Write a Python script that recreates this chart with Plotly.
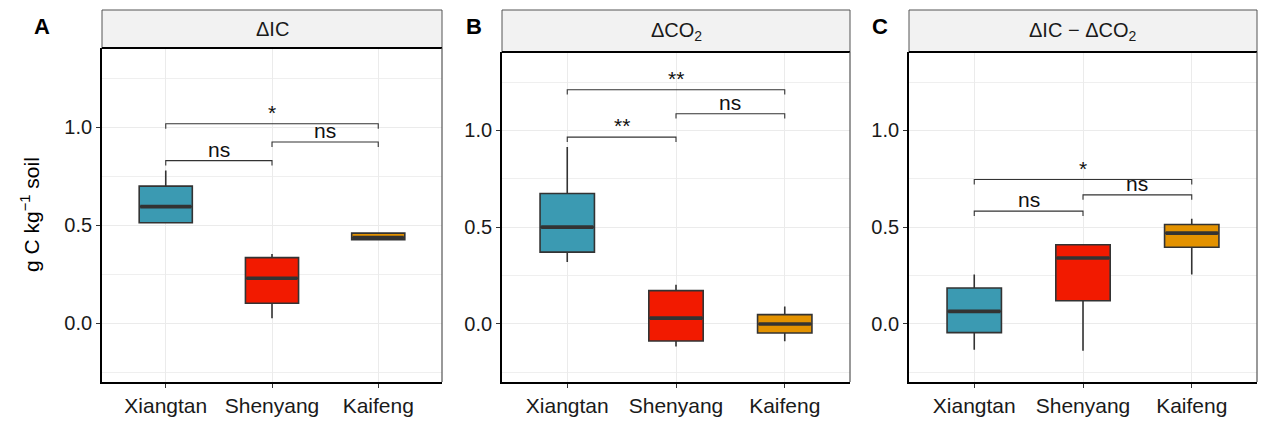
import plotly.graph_objects as go

# categories and colours
sites = ["Xiangtan", "Shenyang", "Kaifeng"]
site_colors = ["#3B9AB2", "#F21A00", "#E39200"]

# panel titles and labels
panel_titles = ["ΔIC", "ΔCO<sub>2</sub>", "ΔIC − ΔCO<sub>2</sub>"]
panel_tags = ["A", "B", "C"]

# box statistics (per panel, per site)
q1 = [[0.513, 0.102, 0.427], [0.371, -0.088, -0.047], [-0.045, 0.120, 0.396]]
median = [[0.595, 0.230, 0.437], [0.500, 0.030, 0.000], [0.065, 0.341, 0.469]]
q3 = [[0.700, 0.335, 0.460], [0.674, 0.172, 0.048], [0.186, 0.409, 0.514]]
low = [[0.513, 0.025, 0.427], [0.320, -0.117, -0.090], [-0.133, -0.138, 0.255]]
high = [[0.780, 0.353, 0.460], [0.914, 0.203, 0.090], [0.255, 0.409, 0.543]]

# significance brackets: (from, to, height, label)
brackets = [
    [(0, 1, 0.830, "ns"), (1, 2, 0.925, "ns"), (0, 2, 1.018, "*")],
    [(0, 1, 0.965, "**"), (1, 2, 1.086, "ns"), (0, 2, 1.210, "**")],
    [(0, 1, 0.583, "ns"), (1, 2, 0.667, "ns"), (0, 2, 0.746, "*")],
]

W, H = 1267, 422
OFF = 8  # page margin around the figure


def px(v):
    return (v - OFF) / W


def py(v):
    return 1 - (v - OFF) / H


x_doms = [(px(102), px(442)), (px(502), px(850)), (px(909), px(1257))]
y_tops = [py(48), py(52), py(52)]
y_bot = py(382)
strip_top = py(10)
tag_x = [42, 474, 880]
box_w = 0.5
font = "Liberation Sans, Arial, sans-serif"

fig = go.Figure()
layout = dict(
    width=W, height=H, margin=dict(l=0, r=0, t=0, b=0),
    plot_bgcolor="white", paper_bgcolor="white",
    font=dict(family=font, color="#1a1a1a"), showlegend=False,
)
shapes = []
annotations = []

for p in range(3):
    n = "" if p == 0 else str(p + 1)
    xa, ya = "x" + n, "y" + n
    for i, site in enumerate(sites):
        fig.add_trace(go.Box(
            x=[i], q1=[q1[p][i]], median=[median[p][i]], q3=[q3[p][i]],
            lowerfence=[low[p][i]], upperfence=[high[p][i]],
            width=box_w, whiskerwidth=0, fillcolor=site_colors[i],
            line=dict(color="#333333", width=1.6), boxpoints=False,
            hoverinfo="skip", xaxis=xa, yaxis=ya, name=site,
        ))
        fig.add_trace(go.Scatter(
            x=[i - box_w / 2 + 0.01, i + box_w / 2 - 0.01],
            y=[median[p][i]] * 2, mode="lines",
            line=dict(color="#333333", width=3.6),
            hoverinfo="skip", xaxis=xa, yaxis=ya,
        ))
    for a, b, h, lab in brackets[p]:
        fig.add_trace(go.Scatter(
            x=[a, a, b, b], y=[h - 0.025, h, h, h - 0.025], mode="lines",
            line=dict(color="#333333", width=1.1),
            hoverinfo="skip", xaxis=xa, yaxis=ya,
        ))
        annotations.append(dict(
            x=(a + b) / 2, y=h, xref=xa, yref=ya, text=lab, showarrow=False,
            xanchor="center", yanchor="bottom", yshift=-2,
            font=dict(size=21, color="#111"),
        ))

    layout["xaxis" + n] = dict(
        domain=list(x_doms[p]), range=[-0.6, 2.6], anchor=ya,
        tickvals=[0, 1, 2], ticktext=sites, showgrid=True,
        gridcolor="#EBEBEB", gridwidth=1.4, zeroline=False,
        showline=True, linecolor="black", linewidth=1.8,
        ticks="outside", ticklen=4, tickwidth=1.3, tickcolor="#333",
        tickfont=dict(size=21, color="#1a1a1a"),
    )
    layout["yaxis" + n] = dict(
        domain=[y_bot, y_tops[p]], range=[-0.30, 1.405], anchor=xa,
        tickvals=[0, 0.5, 1.0], ticktext=["0.0", "0.5", "1.0"],
        showgrid=True, gridcolor="#EBEBEB", gridwidth=1.4, zeroline=False,
        minor=dict(tickvals=[-0.25, 0.25, 0.75, 1.25], showgrid=True,
                   gridcolor="#EFEFEF", gridwidth=0.8, ticks=""),
        showline=True, linecolor="black", linewidth=1.8,
        ticks="outside", ticklen=4, tickwidth=1.3, tickcolor="#333",
        tickfont=dict(size=20, color="#1a1a1a"),
    )

    xd = xa + " domain"
    # strip
    shapes.append(dict(type="rect", xref=xd, yref="paper", x0=0, x1=1,
                       y0=y_tops[p], y1=strip_top, fillcolor="#F2F2F2",
                       line=dict(color="#555", width=1), layer="below"))
    # top and right panel edges
    shapes.append(dict(type="line", xref=xd, yref="paper", x0=0, x1=1,
                       y0=y_tops[p], y1=y_tops[p],
                       line=dict(color="black", width=1.8)))
    shapes.append(dict(type="line", xref=xd, yref="paper", x0=1, x1=1,
                       y0=y_bot, y1=y_tops[p],
                       line=dict(color="#555", width=1.2)))
    annotations.append(dict(
        x=0.5, y=(y_tops[p] + strip_top) / 2, xref=xd, yref="paper",
        text=panel_titles[p], showarrow=False,
        xanchor="center", yanchor="middle",
        font=dict(size=20, color="#1a1a1a"),
    ))
    annotations.append(dict(
        x=px(tag_x[p]), y=py(26), xref="paper", yref="paper",
        text="<b>" + panel_tags[p] + "</b>", showarrow=False,
        xanchor="center", yanchor="middle",
        font=dict(size=22, color="black"),
    ))

annotations.append(dict(
    x=px(30), y=py(215), xref="paper", yref="paper",
    text="g C kg<sup>−1</sup> soil", showarrow=False, textangle=-90,
    xanchor="center", yanchor="middle",
    font=dict(size=21, color="black"),
))

layout["shapes"] = shapes
layout["annotations"] = annotations
fig.update_layout(**layout)
fig.write_html("out.html")
